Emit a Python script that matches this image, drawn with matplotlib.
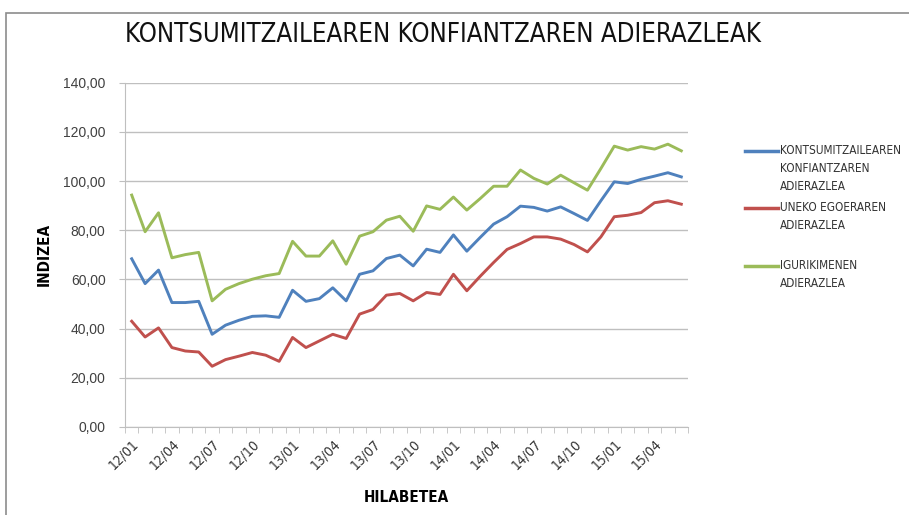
import matplotlib
matplotlib.use("Agg")
import matplotlib.pyplot as plt
from matplotlib.lines import Line2D
from matplotlib.patches import Rectangle
from matplotlib.ticker import FuncFormatter

# monthly labels 12/01 .. 15/06
years = [12, 13, 14, 15]
months = [f"{y}/{m:02d}" for y in years for m in range(1, 13)][:42]

konfiantza = [68.4, 58.3, 63.8, 50.6, 50.6, 51.1, 37.7, 41.4, 43.4, 45.0,
              45.2, 44.6, 55.6, 51.1, 52.2, 56.6, 51.3, 62.1, 63.5, 68.5,
              69.9, 65.5, 72.3, 71.0, 78.1, 71.5, 77.1, 82.5, 85.5, 89.8,
              89.3, 87.8, 89.5, 86.8, 84.0, 92.0, 99.7, 99.0, 100.7, 102.0,
              103.4, 101.7]
uneko = [43.0, 36.6, 40.3, 32.3, 30.9, 30.5, 24.7, 27.4, 28.8, 30.3,
         29.2, 26.7, 36.4, 32.3, 35.0, 37.7, 36.0, 45.9, 47.8, 53.6,
         54.3, 51.3, 54.7, 53.9, 62.1, 55.4, 61.3, 66.9, 72.2, 74.6,
         77.3, 77.3, 76.4, 74.2, 71.2, 77.3, 85.5, 86.1, 87.2, 91.2,
         92.0, 90.6]
igurikimenen = [94.3, 79.4, 87.1, 68.8, 70.1, 71.0, 51.3, 56.0, 58.3, 60.1,
                61.5, 62.4, 75.5, 69.5, 69.5, 75.7, 66.2, 77.6, 79.4, 84.1,
                85.7, 79.6, 89.9, 88.5, 93.5, 88.2, 92.9, 97.9, 97.9, 104.5,
                101.1, 98.8, 102.4, 99.3, 96.3, 105.1, 114.2, 112.6, 114.0, 113.0,
                115.0, 112.3]

series = [
    ("KONTSUMITZAILEAREN\nKONFIANTZAREN\nADIERAZLEA", konfiantza, "#4F81BD"),
    ("UNEKO EGOERAREN\nADIERAZLEA", uneko, "#C0504D"),
    ("IGURIKIMENEN\nADIERAZLEA", igurikimenen, "#9BBB59"),
]

COND = dict(family="DejaVu Sans", stretch="condensed")

fig = plt.figure(figsize=(9.09, 5.15), dpi=100)
ax = fig.add_axes([125 / 909, 1 - 427 / 515, 563 / 909, (427 - 82.7) / 515])

# outer chart border
fig.add_artist(Rectangle((6 / 909, -0.1), 1.2, 1 - 13 / 515 + 0.1,
                         transform=fig.transFigure, fill=False,
                         edgecolor="#8C8C8C", linewidth=1.2))

x = list(range(len(months)))
lines = []
for name, vals, col in series:
    ln, = ax.plot(x, vals, color=col, linewidth=2.1, solid_joinstyle="round")
    lines.append((name, ln))

ax.set_xlim(-0.5, len(months) - 0.5)
ax.set_ylim(0, 140)
ax.set_yticks(range(0, 141, 20))
ax.yaxis.set_major_formatter(FuncFormatter(lambda v, p: f"{v:.2f}".replace(".", ",")))
ax.grid(axis="y", color="#BFBFBF", linewidth=1.0)
ax.set_axisbelow(True)

ax.set_xticks(x[::3])
ax.set_xticklabels(months[::3], rotation=45, ha="right", rotation_mode="anchor",
                   fontsize=10, color="#333333", **COND)
ax.set_xticks([i - 0.5 for i in range(len(months) + 1)], minor=True)
ax.tick_params(axis="x", which="major", length=0, pad=7)
ax.tick_params(axis="x", which="minor", length=4, color="#BFBFBF", direction="out")
ax.tick_params(axis="y", length=4, color="#BFBFBF", labelsize=10, labelcolor="#404040",
               pad=10)
for t in ax.get_yticklabels():
    t.set_family(["Liberation Sans", "DejaVu Sans"])

for s in ["top", "right"]:
    ax.spines[s].set_visible(False)
for s in ["left", "bottom"]:
    ax.spines[s].set_color("#BFBFBF")

ax.set_ylabel("INDIZEA", fontweight="bold", fontsize=11, labelpad=8, **COND)
ax.set_xlabel("HILABETEA", fontweight="bold", fontsize=11, labelpad=13, **COND)

fig.text(125 / 909, 1 - 35 / 515, "KONTSUMITZAILEAREN KONFIANTZAREN ADIERAZLEAK",
         fontsize=18.5, color="#111111", va="center", ha="left", **COND)

# legend drawn on the figure, markers aligned with first text line
leg_y = [151, 208, 266]
for (name, ln), yy in zip(lines, leg_y):
    yf = 1 - yy / 515
    fig.add_artist(Line2D([745 / 909, 778 / 909], [yf, yf], color=ln.get_color(),
                          linewidth=2.5, transform=fig.transFigure))
    fig.text(780 / 909, yf + 7 / 515, name, fontsize=8.5, color="#333333",
             va="top", ha="left", linespacing=1.5, **COND)

fig.savefig("out.png", dpi=100)
